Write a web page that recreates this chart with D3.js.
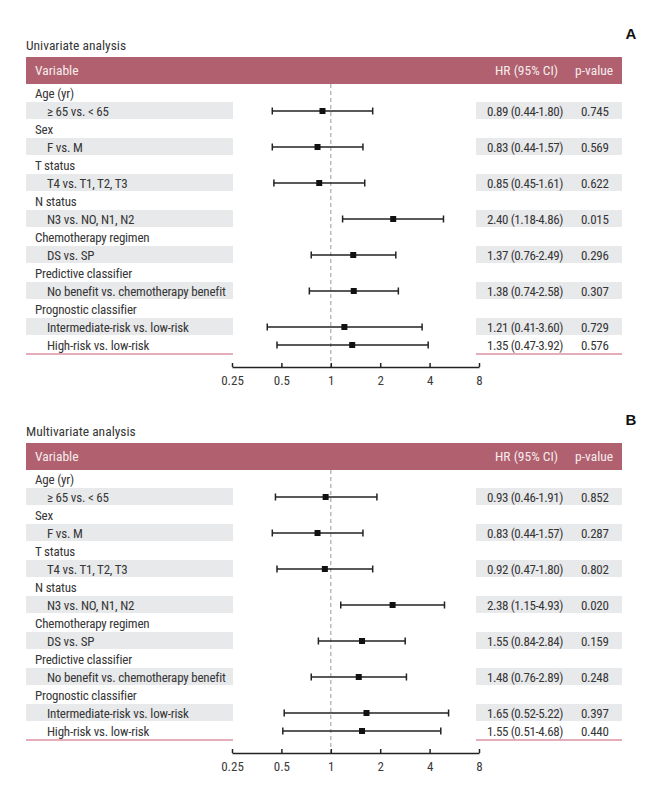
<!DOCTYPE html>
<html><head><meta charset="utf-8">
<script src="https://cdn.jsdelivr.net/npm/d3@7"></script>
<style>
body{margin:0;background:#fff;}
svg text{font-family:"Liberation Sans Narrow","Roboto Condensed","Roboto",sans-serif;fill:#363636;}
</style></head>
<body><svg id="chart" width="661" height="794"></svg>
<script>
const rowLabels = ["Age (yr)","≥ 65 vs. < 65","Sex","F vs. M","T status","T4 vs. T1, T2, T3","N status","N3 vs. NO, N1, N2","Chemotherapy regimen","DS vs. SP","Predictive classifier","No benefit vs. chemotherapy benefit","Prognostic classifier","Intermediate-risk vs. low-risk","High-risk vs. low-risk"];
const rowIsSub = [0,1,0,1,0,1,0,1,0,1,0,1,0,1,1];
const rowShaded = [0,1,0,1,0,1,0,1,0,1,0,1,0,1,0];

const uniHR = [0.89,0.83,0.85,2.40,1.37,1.38,1.21,1.35];
const uniLo = [0.44,0.44,0.45,1.18,0.76,0.74,0.41,0.47];
const uniHi = [1.80,1.57,1.61,4.86,2.49,2.58,3.60,3.92];
const uniP  = ["0.745","0.569","0.622","0.015","0.296","0.307","0.729","0.576"];

const multiHR = [0.93,0.83,0.92,2.38,1.55,1.48,1.65,1.55];
const multiLo = [0.46,0.44,0.47,1.15,0.84,0.76,0.52,0.51];
const multiHi = [1.91,1.57,1.80,4.93,2.84,2.89,5.22,4.68];
const multiP  = ["0.852","0.287","0.802","0.020","0.159","0.248","0.397","0.440"];

const tickValues = [0.25,0.5,1,2,4,8];
const tickLabels = ["0.25","0.5","1","2","4","8"];

const panels = [
  {letter:"A", title:"Univariate analysis", hr:uniHR, lo:uniLo, hi:uniHi, p:uniP, top:57},
  {letter:"B", title:"Multivariate analysis", hr:multiHR, lo:multiLo, hi:multiHi, p:multiP, top:443}
];

const svg = d3.select("#chart");
const x = d3.scaleLog().base(2).domain([0.25,8]).range([232,479]);
const headerH = 27, rowH = 18;
const fmt = d3.format(".2f");

panels.forEach(pn => {
  const g = svg.append("g").attr("transform", `translate(0,${pn.top})`);
  const y = i => headerH + rowH*i;
  g.append("text").attr("x",26).attr("y",-12).attr("dy","0.35em")
    .style("font-size","13.5px").text(pn.title);
  svg.append("text").attr("x",631).attr("y",pn.top-23).attr("dy","0.35em")
    .attr("text-anchor","middle").style("font-family","Liberation Sans, Arial, sans-serif")
    .style("font-weight","bold").style("font-size","15px").style("fill","#111").text(pn.letter);
  g.append("rect").attr("x",26).attr("y",0).attr("width",596).attr("height",headerH).attr("fill","#b0606f");
  g.append("text").attr("x",35).attr("y",headerH/2).attr("dy","0.35em").style("font-size","13.5px").style("fill","#f6eced").text("Variable");
  g.append("text").attr("x",495).attr("y",headerH/2).attr("dy","0.35em").style("font-size","13.5px").style("fill","#f6eced").text("HR (95% CI)");
  g.append("text").attr("x",575).attr("y",headerH/2).attr("dy","0.35em").style("font-size","13.5px").style("fill","#f6eced").text("p-value");

  let k = -1;
  const subIdx = rowIsSub.map(s => s ? ++k : -1);
  rowLabels.forEach((lab,i) => {
    if (rowShaded[i]) {
      g.append("rect").attr("x",26).attr("y",y(i)).attr("width",207).attr("height",rowH-1).attr("fill","#e8e9eb");
      g.append("rect").attr("x",476).attr("y",y(i)).attr("width",146).attr("height",rowH-1).attr("fill","#e8e9eb");
    }
    g.append("text").attr("x", rowIsSub[i] ? 47 : 35).attr("y", y(i)+rowH/2).attr("dy","0.35em")
      .style("font-size","13px").style("letter-spacing","-0.2px").text(lab);
  });
  const yEnd = y(rowLabels.length);
  g.append("line").attr("x1",26).attr("x2",233).attr("y1",yEnd).attr("y2",yEnd).attr("stroke","#cc5a74").attr("stroke-width",1.2);
  g.append("line").attr("x1",476).attr("x2",622).attr("y1",yEnd).attr("y2",yEnd).attr("stroke","#cc5a74").attr("stroke-width",1.2);

  const axisY = yEnd + 13;
  g.append("line").attr("x1",x(1)).attr("x2",x(1)).attr("y1",headerH).attr("y2",axisY)
    .attr("stroke","#aaa").attr("stroke-width",1.2).attr("stroke-dasharray","4,3");
  const ax = g.append("g").attr("transform",`translate(0,${axisY})`)
    .call(d3.axisBottom(x).tickValues(tickValues).tickFormat((d,i)=>tickLabels[i]).tickSizeInner(-4).tickSizeOuter(0).tickPadding(9));
  ax.select(".domain").attr("stroke","#222").attr("stroke-width",1.5);
  ax.selectAll(".tick line").attr("stroke","#222").attr("stroke-width",1.5);
  ax.selectAll(".tick text").style("font-size","13px").style("fill","#3a3a3a").attr("font-family",null);

  rowLabels.forEach((lab,i) => {
    if (!rowIsSub[i]) return;
    const j = subIdx[i];
    const cy = y(i) + rowH/2;
    g.append("line").attr("x1",x(pn.lo[j])).attr("x2",x(pn.hi[j])).attr("y1",cy).attr("y2",cy).attr("stroke","#222").attr("stroke-width",1.5);
    [pn.lo[j],pn.hi[j]].forEach(v => g.append("line").attr("x1",x(v)).attr("x2",x(v)).attr("y1",cy-3.5).attr("y2",cy+3.5).attr("stroke","#222").attr("stroke-width",1.5));
    g.append("rect").attr("x",x(pn.hr[j])-3).attr("y",cy-3).attr("width",6).attr("height",6).attr("fill","#111");
    g.append("text").attr("x",487).attr("y",cy).attr("dy","0.35em").style("font-size","13px").style("letter-spacing","-0.4px")
      .text(`${fmt(pn.hr[j])} (${fmt(pn.lo[j])}-${fmt(pn.hi[j])})`);
    g.append("text").attr("x",581).attr("y",cy).attr("dy","0.35em").style("font-size","13px").style("letter-spacing","-0.3px").text(pn.p[j]);
  });
});
</script></body></html>
